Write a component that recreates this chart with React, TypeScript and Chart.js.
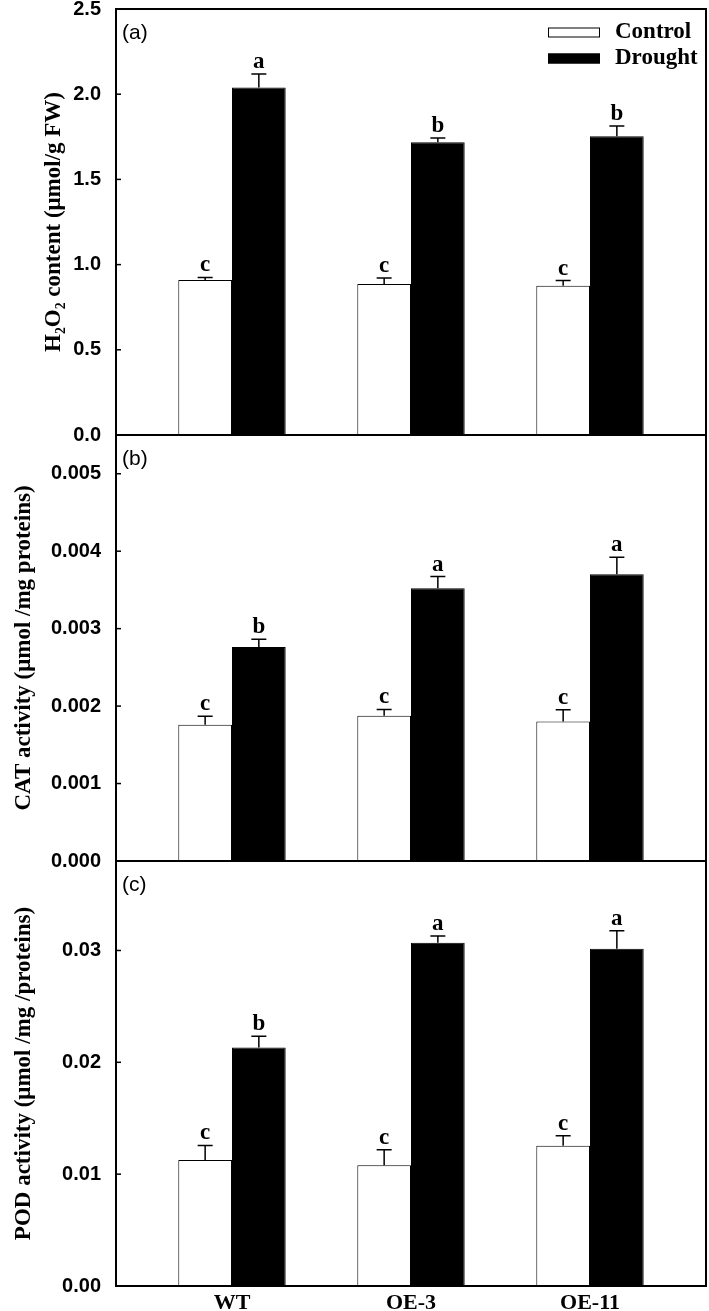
import React, { useEffect, useRef } from 'react';
import { Chart, registerables } from 'chart.js';

Chart.register(...registerables);

// ---------- data ----------
const categories = ['WT', 'OE-3', 'OE-11'];
const seriesNames = ['Control', 'Drought'];

const h2o2Control = [0.91, 0.886, 0.876];
const h2o2Drought = [2.039, 1.718, 1.753];
const h2o2ControlErr = [0.015, 0.035, 0.03];
const h2o2DroughtErr = [0.08, 0.025, 0.06];
const h2o2ControlLetters = ['c', 'c', 'c'];
const h2o2DroughtLetters = ['a', 'b', 'b'];

const catControl = [0.00176, 0.001876, 0.001802];
const catDrought = [0.002763, 0.003523, 0.003703];
const catControlErr = [0.00011, 0.00008, 0.00015];
const catDroughtErr = [0.0001, 0.00015, 0.00022];
const catControlLetters = ['c', 'c', 'c'];
const catDroughtLetters = ['b', 'a', 'a'];

const podControl = [0.01127, 0.01079, 0.01253];
const podDrought = [0.02132, 0.0307, 0.03016];
const podControlErr = [0.0013, 0.0014, 0.0009];
const podDroughtErr = [0.001, 0.0006, 0.0016];
const podControlLetters = ['c', 'c', 'c'];
const podDroughtLetters = ['b', 'a', 'a'];

const panelLabels = ['(a)', '(b)', '(c)'];
const yTitles = [
  'H\u2082O\u2082 content (\u03bcmol/g FW)',
  'CAT activity (\u03bcmol /mg proteins)',
  'POD activity (\u03bcmol /mg /proteins)',
];
const yMax = [2.5, 0.0055, 0.038];
const yStep = [0.5, 0.001, 0.01];
const yDecimals = [1, 3, 2];

// ---------- styling ----------
const SERIF = '"Liberation Serif", "Times New Roman", serif';
const SANS = '"Liberation Sans", Arial, sans-serif';
const seriesFill = ['#ffffff', '#000000'];

const decorPlugin = {
  id: 'panelDecor',
  afterDatasetsDraw(chart: any, _args: any, opts: any) {
    const { ctx, chartArea: a, scales } = chart;
    const y = scales.y;
    ctx.save();
    // error bars + significance letters
    chart.data.datasets.forEach((ds: any, di: number) => {
      const meta = chart.getDatasetMeta(di);
      meta.data.forEach((el: any, i: number) => {
        const v = ds.data[i].y;
        const e = ds.errors[i];
        const yt = y.getPixelForValue(v + e);
        ctx.strokeStyle = '#000';
        ctx.lineWidth = 1.5;
        ctx.beginPath();
        ctx.moveTo(el.x, el.y);
        ctx.lineTo(el.x, yt);
        ctx.moveTo(el.x - 7.5, yt);
        ctx.lineTo(el.x + 7.5, yt);
        ctx.stroke();
        ctx.fillStyle = '#000';
        ctx.font = 'bold 23px ' + SERIF;
        ctx.textAlign = 'center';
        ctx.textBaseline = 'alphabetic';
        ctx.fillText(ds.letters[i], el.x, yt - 6);
      });
    });
    // inward tick marks
    ctx.strokeStyle = '#000';
    ctx.lineWidth = 1.5;
    y.ticks.forEach((t: any) => {
      const py = y.getPixelForValue(t.value);
      ctx.beginPath();
      ctx.moveTo(a.left, py);
      ctx.lineTo(a.left + 5, py);
      ctx.stroke();
    });
    // frame
    ctx.lineWidth = 2;
    ctx.strokeRect(a.left, a.top, a.right - a.left, a.bottom - a.top);
    // panel label
    ctx.fillStyle = '#000';
    ctx.font = '21px ' + SANS;
    ctx.textAlign = 'left';
    ctx.textBaseline = 'middle';
    ctx.fillText(opts.label, a.left + 6, a.top + 24);
    // legend
    if (opts.legend) {
      chart.data.datasets.forEach((ds: any, di: number) => {
        const cy = a.top + 23.5 + di * 26;
        const bx = a.right - 158;
        ctx.fillStyle = ds.backgroundColor;
        ctx.fillRect(bx, cy - 5, 52, 10);
        ctx.lineWidth = 1;
        ctx.strokeStyle = '#000';
        ctx.strokeRect(bx + 0.5, cy - 5 + 0.5, 51, 9);
        ctx.fillStyle = '#000';
        ctx.font = 'bold 23px ' + SERIF;
        ctx.textAlign = 'left';
        ctx.textBaseline = 'middle';
        ctx.fillText(ds.label, a.right - 91, cy);
      });
    }
    ctx.restore();
  },
};

function makeConfig(idx: number, values: number[][], errs: number[][], letters: string[][], pad: any, showX: boolean) {
  return {
    type: 'bar' as const,
    data: {
      datasets: values.map((vals, si) => ({
        label: seriesNames[si],
        data: vals.map((v, i) => ({ x: i, y: v })),
        errors: errs[si],
        letters: letters[si],
        backgroundColor: seriesFill[si],
        borderColor: '#000',
        borderWidth: 1,
        categoryPercentage: 0.6,
        barPercentage: 1.0,
      })),
    },
    options: {
      responsive: false,
      animation: false,
      devicePixelRatio: 1,
      layout: { padding: pad },
      plugins: {
        legend: { display: false },
        tooltip: { enabled: false },
        panelDecor: { label: panelLabels[idx], legend: idx === 0 },
      },
      scales: {
        x: {
          type: 'linear',
          display: showX,
          offset: false,
          min: -0.648,
          max: 2.648,
          afterBuildTicks: (scale: any) => {
            scale.ticks = categories.map((_, i) => ({ value: i }));
          },
          afterFit: (scale: any) => {
            scale.height = showX ? 25 : 0;
            scale.paddingLeft = 0;
            scale.paddingRight = 0;
          },
          grid: { display: false, drawTicks: false },
          border: { display: false },
          ticks: {
            padding: 4,
            color: '#000',
            font: { family: SERIF, weight: 'bold', size: 22 },
            callback: (v: any) => categories[Math.round(v)] ?? '',
          },
        },
        y: {
          min: 0,
          max: yMax[idx],
          afterFit: (scale: any) => {
            scale.width = 116;
            scale.paddingTop = 0;
            scale.paddingBottom = 0;
          },
          grid: { display: false, drawTicks: false },
          border: { display: false },
          ticks: {
            stepSize: yStep[idx],
            includeBounds: false,
            padding: 15,
            color: '#000',
            font: { family: SANS, weight: 'bold', size: 20 },
            callback: (v: any) => Number(v).toFixed(yDecimals[idx]),
          },
          title: {
            display: true,
            text: yTitles[idx],
            color: '#000',
            font: { family: SERIF, weight: 'bold', size: 23 },
            padding: { top: idx === 0 ? 40 : 10, bottom: 0 },
          },
        },
      },
    },
    plugins: [decorPlugin],
  };
}

function Panel({ top, height, build }: { top: number; height: number; build: () => any }) {
  const ref = useRef<HTMLCanvasElement>(null);
  useEffect(() => {
    const chart = new Chart(ref.current as HTMLCanvasElement, build());
    return () => chart.destroy();
  }, []);
  return (
    <canvas
      ref={ref}
      width={709}
      height={height}
      style={{ position: 'absolute', left: 0, top, width: 709, height }}
    />
  );
}

export default function App() {
  return (
    <div style={{ position: 'absolute', left: 0, top: 0, width: 709, height: 1311, background: '#fff' }}>
      <Panel
        top={0}
        height={447}
        build={() =>
          makeConfig(
            0,
            [h2o2Control, h2o2Drought],
            [h2o2ControlErr, h2o2DroughtErr],
            [h2o2ControlLetters, h2o2DroughtLetters],
            { top: 9, bottom: 12, left: 0, right: 3 },
            false
          )
        }
      />
      <Panel
        top={423}
        height={450}
        build={() =>
          makeConfig(
            1,
            [catControl, catDrought],
            [catControlErr, catDroughtErr],
            [catControlLetters, catDroughtLetters],
            { top: 12, bottom: 12, left: 0, right: 3 },
            false
          )
        }
      />
      <Panel
        top={849}
        height={462}
        build={() =>
          makeConfig(
            2,
            [podControl, podDrought],
            [podControlErr, podDroughtErr],
            [podControlLetters, podDroughtLetters],
            { top: 12, bottom: 0, left: 0, right: 3 },
            true
          )
        }
      />
    </div>
  );
}
